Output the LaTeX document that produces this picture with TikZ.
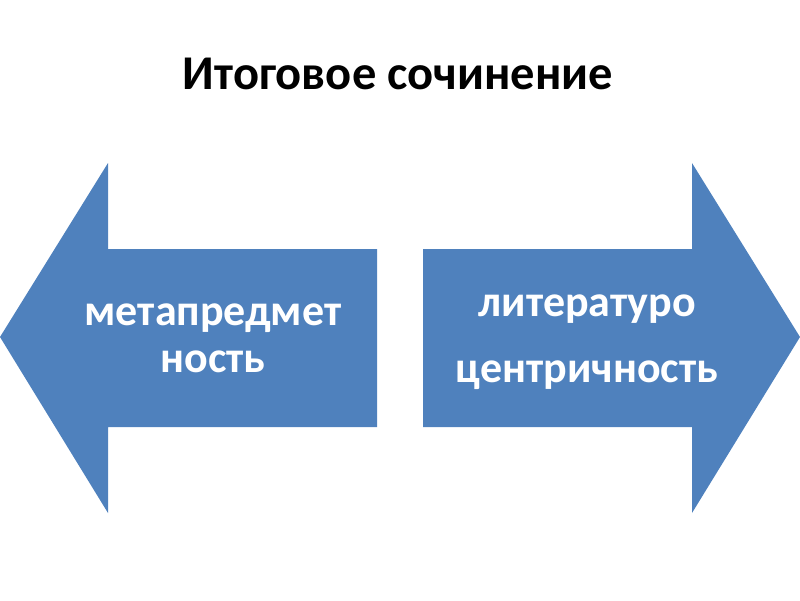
\documentclass[tikz,border=0pt]{standalone}
\usepackage{fontspec}
\setmainfont{Carlito}
\definecolor{arrowblue}{HTML}{4F81BD}
\begin{document}
\begin{tikzpicture}[x=1pt,y=-1pt,
  arrowshape/.style={fill=arrowblue,draw=none},
  arrowtext/.style={text=white,font=\bfseries\fontsize{44}{52}\selectfont,inner sep=0pt,anchor=base},
  titletext/.style={text=black,font=\bfseries\fontsize{48.5}{56}\selectfont,inner sep=0pt,anchor=base}]
\useasboundingbox (0,0) rectangle (800,600);
\fill[arrowshape] (0,337) -- (108,163) -- (108,249) -- (377,249) -- (377,427) -- (108,427) -- (108,513) -- cycle;
\fill[arrowshape] (800,337) -- (692,163) -- (692,249) -- (423,249) -- (423,427) -- (692,427) -- (692,513) -- cycle;
\node[titletext] (title) at (398,89) {Итоговое сочинение};
\node[arrowtext] (l1) at (213,325) {метапредмет};
\node[arrowtext] (l2) at (213,372) {ность};
\node[arrowtext] (r1) at (587,316) {литературо};
\node[arrowtext] (r2) at (587,382) {центричность};
\end{tikzpicture}
\end{document}
